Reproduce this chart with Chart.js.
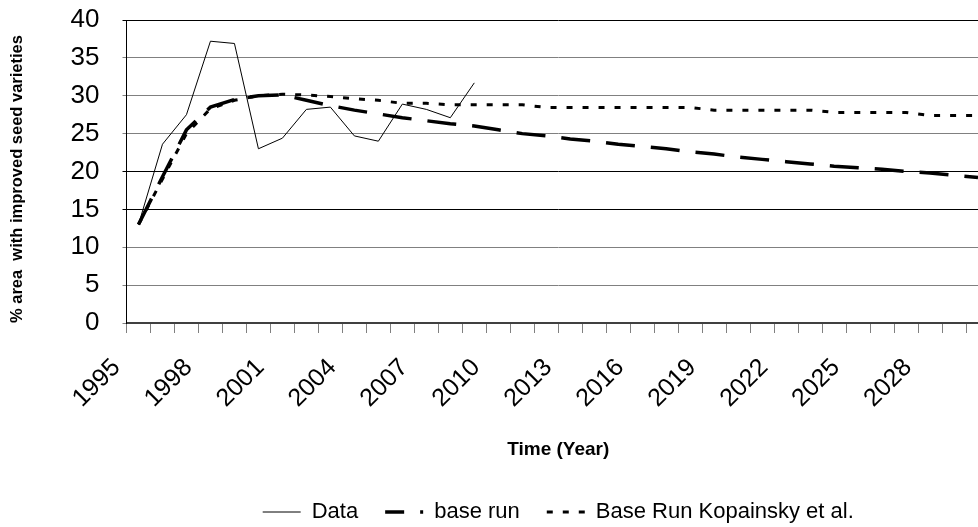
<!DOCTYPE html>
<html lang="en">
<head>
    <meta charset="UTF-8">
    <title>% area with improved seed varieties</title>
    <script src="https://cdn.jsdelivr.net/npm/chart.js"></script>
    <style>
        html, body {
            margin: 0;
            padding: 0;
            background: #ffffff;
            overflow: hidden;
        }
        /* the original figure is cropped on the right, so the canvas is a bit wider than the window */
        .chart-box {
            position: relative;
            width: 990px;
            height: 533px;
        }
    </style>
</head>
<body>
    <div class="chart-box">
        <canvas id="seedChart" width="990" height="533"></canvas>
    </div>

    <script>
        // Categories (years) shown on the x axis
        const years = [
            '1995', '1996', '1997', '1998', '1999', '2000', '2001', '2002', '2003', '2004',
            '2005', '2006', '2007', '2008', '2009', '2010', '2011', '2012', '2013', '2014',
            '2015', '2016', '2017', '2018', '2019', '2020', '2021', '2022', '2023', '2024',
            '2025', '2026', '2027', '2028', '2029', '2030'
        ];

        // Observed data (1995-2009)
        const observedData = [
            13.0, 23.6, 27.5, 37.2, 36.9, 23.0, 24.4, 28.2, 28.5, 24.7,
            24.0, 28.9, 28.2, 27.1, 31.7
        ];

        // Model: base run
        const baseRun = [
            13.0, 19.3, 25.5, 28.5, 29.5, 30.0, 30.1, 29.4, 28.7, 28.1,
            27.6, 27.1, 26.7, 26.3, 26.0, 25.5, 25.0, 24.7, 24.3, 24.0,
            23.6, 23.3, 23.0, 22.6, 22.3, 21.9, 21.6, 21.3, 21.0, 20.7,
            20.5, 20.3, 20.0, 19.8, 19.5, 19.2
        ];

        // Base Run Kopainsky et al.
        const kopainskyRun = [
            13.0, 19.0, 25.0, 28.3, 29.4, 30.0, 30.2, 30.1, 29.9, 29.6,
            29.4, 29.0, 29.0, 28.8, 28.8, 28.8, 28.8, 28.45, 28.45, 28.45,
            28.45, 28.45, 28.45, 28.45, 28.1, 28.1, 28.1, 28.1, 28.1, 27.8,
            27.8, 27.8, 27.8, 27.4, 27.4, 27.4
        ];

        const yTicks = [0, 5, 10, 15, 20, 25, 30, 35, 40];
        const seriesNames = ['Data', 'base run', 'Base Run Kopainsky et al.'];

        Chart.defaults.font.family = "'Liberation Sans', Arial, sans-serif";
        Chart.defaults.color = '#000000';

        const ctx = document.getElementById('seedChart').getContext('2d');
        new Chart(ctx, {
            type: 'line',
            data: {
                labels: years,
                datasets: [
                    {
                        label: seriesNames[0],
                        data: observedData,
                        borderColor: '#000000',
                        backgroundColor: 'transparent',
                        borderWidth: 1,
                        pointRadius: 0,
                        tension: 0
                    },
                    {
                        label: seriesNames[1],
                        data: baseRun,
                        borderColor: '#000000',
                        backgroundColor: 'transparent',
                        borderWidth: 3.5,
                        borderDash: [29, 16],
                        pointRadius: 0,
                        tension: 0
                    },
                    {
                        label: seriesNames[2],
                        data: kopainskyRun,
                        borderColor: '#000000',
                        backgroundColor: 'transparent',
                        borderWidth: 3,
                        borderDash: [6, 10],
                        pointRadius: 0,
                        tension: 0
                    }
                ]
            },
            options: {
                responsive: false,
                animation: false,
                devicePixelRatio: 1,
                layout: {
                    padding: { top: 20, left: 0, right: 0, bottom: 0 }
                },
                plugins: {
                    tooltip: { enabled: false },
                    legend: {
                        position: 'bottom',
                        fullSize: false,
                        labels: {
                            usePointStyle: true,
                            pointStyle: 'line',
                            pointStyleWidth: 38,
                            padding: 27,
                            color: '#000000',
                            font: { size: 22 },
                            generateLabels: (chart) => {
                                const items = Chart.defaults.plugins.legend.labels.generateLabels(chart);
                                // point style legends lose the dash pattern, copy it from the datasets
                                items.forEach((item, i) => {
                                    const ds = chart.data.datasets[i];
                                    item.lineDash = ds.borderDash || [];
                                    item.lineWidth = ds.borderWidth;
                                    item.strokeStyle = ds.borderColor;
                                });
                                // long piece then a short piece, like the original legend
                                items[1].lineDashOffset = 10;
                                return items;
                            }
                        }
                    }
                },
                scales: {
                    x: {
                        type: 'category',
                        offset: true,
                        grid: {
                            offset: true,
                            drawOnChartArea: false,
                            drawTicks: true,
                            tickLength: 10,
                            color: '#808080'
                        },
                        border: { color: '#404040', width: 2 },
                        ticks: {
                            autoSkip: false,
                            minRotation: 45,
                            maxRotation: 45,
                            padding: 20,
                            labelOffset: -22,
                            color: '#000000',
                            font: { size: 25 },
                            callback: (value, index) => (index % 3 === 0 ? years[index] : '')
                        },
                        title: {
                            display: true,
                            text: 'Time (Year)',
                            color: '#000000',
                            font: { size: 19, weight: 'bold' },
                            padding: { top: 0, bottom: 13 }
                        },
                        afterFit: (scale) => {
                            scale.height = 151;
                            scale.paddingLeft = 0;
                            scale.paddingRight = 0;
                        }
                    },
                    y: {
                        min: 0,
                        max: 40,
                        afterBuildTicks: (scale) => {
                            scale.ticks = yTicks.map(v => ({ value: v }));
                        },
                        grid: {
                            drawTicks: true,
                            tickLength: 4,
                            color: (c) => ([40, 20, 15].includes(c.tick && c.tick.value) ? '#000000' : '#808080')
                        },
                        border: { color: '#000000', width: 1 },
                        ticks: {
                            padding: 23,
                            color: '#000000',
                            font: { size: 26 }
                        },
                        title: {
                            display: true,
                            align: 'start',
                            text: '% area  with improved seed varieties',
                            color: '#000000',
                            font: { size: 16.5, weight: 'bold' },
                            padding: { top: 8, bottom: 0 }
                        },
                        afterFit: (scale) => {
                            scale.width = 126.5;
                            scale.paddingTop = 0;
                            scale.paddingBottom = 0;
                        }
                    }
                }
            }
        });
    </script>
</body>
</html>
